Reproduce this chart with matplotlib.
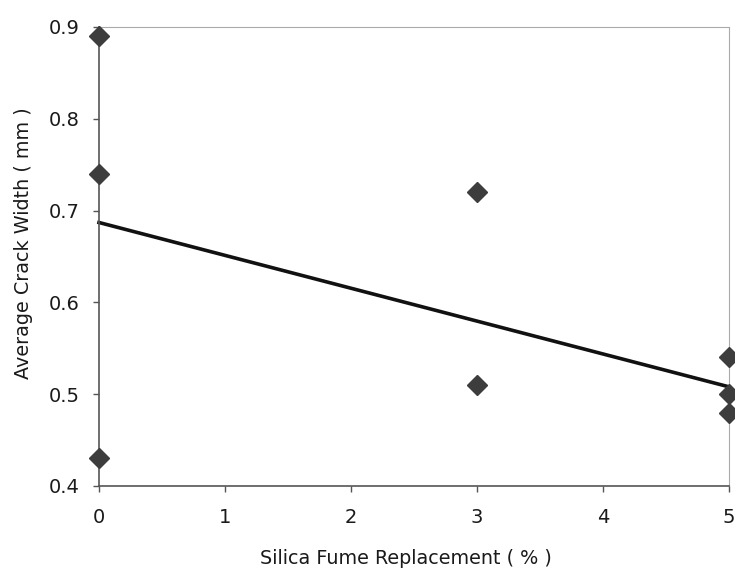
import numpy as np
import matplotlib
matplotlib.use("Agg")
import matplotlib.pyplot as plt

plt.rcParams['font.family'] = ['DejaVu Sans']

# measured crack widths per silica fume level
sf_pct = [0, 0, 0, 3, 3, 5, 5, 5]
crack_w = [0.89, 0.74, 0.43, 0.72, 0.51, 0.54, 0.50, 0.48]

# linear trend line end points
trend_x = [0, 5]
trend_y = [0.687, 0.508]

fig = plt.figure(figsize=(7.35, 5.7), dpi=100)
ax = fig.add_axes([0.1347, 0.1474, 0.8571, 0.8053])

ax.plot(trend_x, trend_y, color='#111111', linewidth=2.6, clip_on=False, zorder=2)
ax.plot(sf_pct, crack_w, linestyle='none', marker='D', markersize=10.5,
        color='#3d3d3d', clip_on=False, zorder=3)

ax.set_xlim(0, 5)
ax.set_ylim(0.4, 0.9)
ax.set_xticks(range(6))
ax.set_yticks([0.4, 0.5, 0.6, 0.7, 0.8, 0.9])
ax.set_yticklabels(['0.4', '0.5', '0.6', '0.7', '0.8', '0.9'])

for s in ['left', 'bottom']:
    ax.spines[s].set_color('#555555')
    ax.spines[s].set_linewidth(1.2)
for s in ['top', 'right']:
    ax.spines[s].set_color('#aaaaaa')
    ax.spines[s].set_linestyle((0, (2, 1)))
    ax.spines[s].set_linewidth(0.8)

ax.tick_params(axis='both', direction='out', length=4, width=1, color='#555555',
               labelsize=14, labelcolor='#1a1a1a')
ax.tick_params(axis='x', pad=12)
ax.tick_params(axis='y', pad=10)

ax.set_xlabel('Silica Fume Replacement ( % )', fontsize=13.8, color='#1a1a1a')
ax.set_ylabel('Average Crack Width ( mm )', fontsize=13.8, color='#1a1a1a')
ax.xaxis.set_label_coords(0.487, -0.137)
ax.yaxis.set_label_coords(-0.105, 0.529)

fig.savefig('out.png', dpi=100)
